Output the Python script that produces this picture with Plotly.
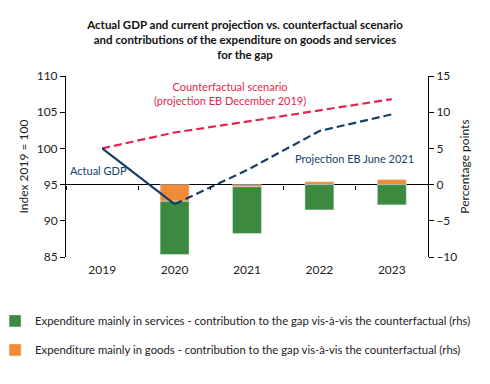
import plotly.graph_objects as go

years = ["2019", "2020", "2021", "2022", "2023"]
counterfactual = [100, 102.2, 103.7, 105.3, 106.8]
actual_gdp = [100, 92.3, None, None, None]
projection = [None, 92.3, 97.0, 102.4, 104.7]
goods = [None, -2.3, -0.3, 0.4, 0.7]
services = [None, -7.35, -6.45, -3.5, -2.8]

RED = "#E0284F"
NAVY = "#133F6B"
GREEN = "#3B8A3F"
ORANGE = "#F28A36"
FONT = "Lato"

fig = go.Figure()
fig.add_trace(go.Bar(x=years, y=goods, marker_color=ORANGE, width=0.4,
                     name="Expenditure mainly in goods - contribution to the gap vis-à-vis the counterfactual (rhs)",
                     legendgroup="g", legendrank=2, yaxis="y"))
fig.add_trace(go.Bar(x=years, y=services, marker_color=GREEN, width=0.4,
                     name="Expenditure mainly in services - contribution to the gap vis-à-vis the counterfactual (rhs)",
                     legendgroup="s", legendrank=1, yaxis="y"))
fig.add_trace(go.Scatter(x=years, y=counterfactual, mode="lines", yaxis="y2",
                         line=dict(color=RED, width=2.2, dash="8px,4px"), showlegend=False))
fig.add_trace(go.Scatter(x=years, y=actual_gdp, mode="lines", yaxis="y2",
                         line=dict(color=NAVY, width=2.2), showlegend=False))
fig.add_trace(go.Scatter(x=years, y=projection, mode="lines", yaxis="y2",
                         line=dict(color=NAVY, width=2.2, dash="8px,4px"), showlegend=False))
fig.add_trace(go.Scatter(x=years, y=[None]*5, xaxis="x2", yaxis="y",
                         showlegend=False, hoverinfo="skip"))

fig.update_layout(
    width=482, height=376,
    margin=dict(l=58, r=62, t=68, b=127, autoexpand=False),
    paper_bgcolor="white", plot_bgcolor="white",
    font=dict(family=FONT, size=12, color="#222"),
    barmode="relative",
    title=dict(text="<b>Actual GDP and current projection vs. counterfactual scenario<br>and contributions of the expenditure on goods and services<br>for the gap</b>",
               x=237/482, xanchor="center", yref="container", y=1 - 21/376, yanchor="middle",
               font=dict(family=FONT, size=11.5, color="#111")),
    xaxis=dict(type="category", range=[-0.5, 4.5], showline=False, ticks="",
               showgrid=False, tickfont=dict(size=12, color="#222"), ticklabelstandoff=4),
    xaxis2=dict(type="category", overlaying="x", anchor="free", position=0.4,
                range=[-0.5, 4.5], showline=False, ticks="outside", tickson="boundaries",
                ticklen=4, tickcolor="black", showticklabels=False, showgrid=False,
                side="bottom"),
    yaxis=dict(side="right", range=[-10, 15], dtick=5, showgrid=False,
               zeroline=True, zerolinecolor="black", zerolinewidth=1.3,
               showline=True, linecolor="black", linewidth=1, ticks="outside",
               ticklen=5, tickcolor="black",
               title=dict(text="Percentage points", font=dict(size=12), standoff=4)),
    yaxis2=dict(side="left", overlaying="y", range=[85, 110], dtick=5, showgrid=False,
                zeroline=False, showline=True, linecolor="black", linewidth=1,
                ticks="outside", ticklen=5, tickcolor="black",
                title=dict(text="Index 2019 = 100", font=dict(size=12), standoff=5)),
    legend=dict(x=-0.196, xanchor="left", y=-0.273, yanchor="top",
                traceorder="grouped", tracegroupgap=10, itemwidth=30,
                font=dict(size=11.3), bgcolor="rgba(0,0,0,0)"),
    annotations=[
        dict(text="Counterfactual scenario<br>(projection EB December 2019)", x=1.765, y=107.6,
             xref="x", yref="y2", showarrow=False, font=dict(color=RED, size=11), yanchor="middle"),
        dict(text="Actual GDP", x=-0.05, y=97.0, xref="x", yref="y2", showarrow=False,
             font=dict(color=NAVY, size=11)),
        dict(text="Projection EB June 2021", x=3.49, y=98.67, xref="x", yref="y2", showarrow=False,
             font=dict(color=NAVY, size=11)),
    ],
)
fig.write_html("out.html")
